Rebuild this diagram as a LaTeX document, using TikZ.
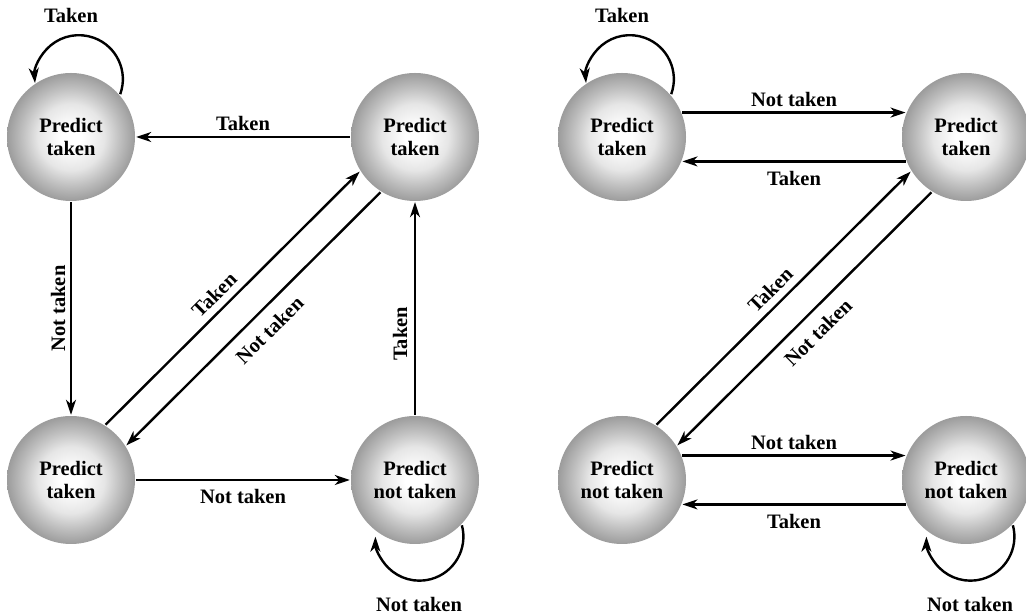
\documentclass[tikz,border=0pt]{standalone}
\usepackage{fontspec}
\setmainfont{Liberation Serif}
\usetikzlibrary{arrows.meta}
\definecolor{rim}{HTML}{9C9C9C}
\definecolor{mid}{HTML}{E6E6E6}
\definecolor{outer}{HTML}{C0C0C0}
\pgfdeclareradialshading{glow}{\pgfpoint{0bp}{0bp}}{color(0bp)=(white); color(4bp)=(white); color(13bp)=(mid); color(19bp)=(outer); color(25bp)=(rim); color(50bp)=(rim)}

\begin{document}
\begin{tikzpicture}[
  x=1pt, y=1pt,
  >={Stealth[length=15pt, width=10pt, inset=4.5pt]},
  line width=2.4pt,
  predict/.style={circle, minimum size=128pt, inner sep=0pt, shade, shading=glow,
    align=center, font=\fontsize{20.5}{23}\selectfont\bfseries},
  lbl/.style={font=\fontsize{20.5}{23}\selectfont\bfseries, inner sep=0pt},
]
\useasboundingbox (0,0) rectangle (1026,615);

\node[predict] (L1) at (71,478) {Predict\\taken};
\node[predict] (L2) at (415,478) {Predict\\taken};
\node[predict] (L3) at (71,135) {Predict\\taken};
\node[predict] (L4) at (415,135) {Predict\\not taken};

\node[predict] (R1) at (622,478) {Predict\\taken};
\node[predict] (R2) at (966,478) {Predict\\taken};
\node[predict] (R3) at (622,135) {Predict\\not taken};
\node[predict] (R4) at (966,135) {Predict\\not taken};

\draw[->] (L1.41) arc[start angle=-20, end angle=185, radius=44];
\node[lbl] (tL1) at ([yshift=56pt]L1.north) {Taken};
\draw[->] (L2.west) -- node[lbl, above=5pt] {Taken} (L1.east);
\draw[->] (L1.south) -- node[lbl, midway, xshift=-13pt, rotate=90] {Not taken} (L3.north);
\draw[->] (L3.58) -- node[lbl, sloped, above=7pt, pos=0.47] {Taken} (L2.212);
\draw[<-] (L3.32) -- node[lbl, sloped, below=11pt, pos=0.51] {Not taken} (L2.238);
\draw[->] (L3.east) -- node[lbl, below=8pt] {Not taken} (L4.west);
\draw[->] (L4.north) -- node[lbl, pos=0.38, xshift=-15pt, rotate=90] {Taken} (L2.south);
\draw[->] (L4.-44) arc[start angle=15, end angle=-180, radius=44];
\node[lbl] (nL4) at ([shift={(4pt,-59pt)}]L4.south) {Not taken};

\draw[->] (R1.41) arc[start angle=-20, end angle=185, radius=44];
\node[lbl] (tR1) at ([yshift=56pt]R1.north) {Taken};
\draw[->] (R1.22) -- node[lbl, above=5pt] {Not taken} (R2.158);
\draw[->] (R2.202) -- node[lbl, below=9pt] {Taken} (R1.-22);
\draw[->] (R3.58) -- node[lbl, sloped, above=7pt, pos=0.49] {Taken} (R2.212);
\draw[<-] (R3.32) -- node[lbl, sloped, below=11pt, pos=0.5] {Not taken} (R2.238);
\draw[->] (R3.22) -- node[lbl, above=5pt] {Not taken} (R4.158);
\draw[->] (R4.202) -- node[lbl, below=9pt] {Taken} (R3.-22);
\draw[->] (R4.-44) arc[start angle=15, end angle=-180, radius=44];
\node[lbl] (nR4) at ([shift={(4pt,-59pt)}]R4.south) {Not taken};

\end{tikzpicture}
\end{document}
